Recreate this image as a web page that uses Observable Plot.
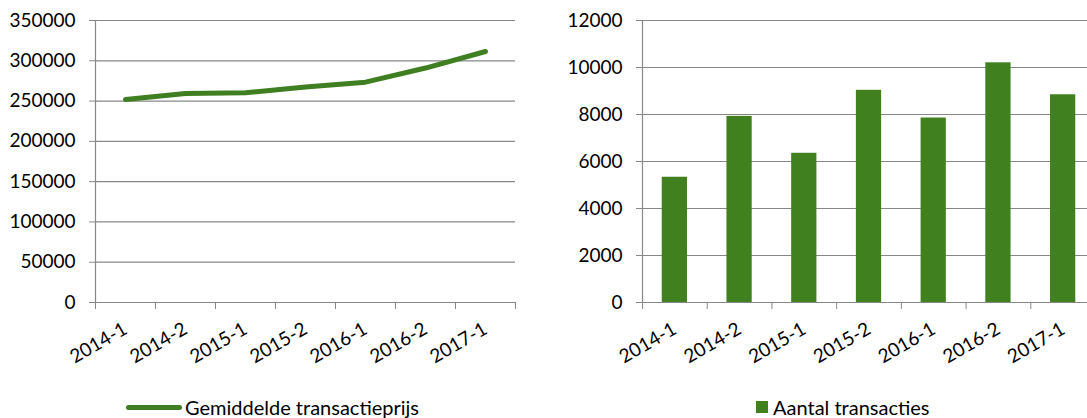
<!DOCTYPE html>
<html>
<head>
<meta charset="utf-8">
<script src="https://cdn.jsdelivr.net/npm/d3@7"></script>
<script src="https://cdn.jsdelivr.net/npm/@observablehq/plot@0.6"></script>
<style>
  html, body { margin: 0; padding: 0; background: #fff; overflow: hidden; }
  #wrap { position: relative; width: 1087px; height: 418px; overflow: hidden; font-family: Lato, sans-serif; color: #000; }
  .chart { position: absolute; top: 0; width: 560px; height: 380px; }
  .chart svg { max-width: none !important; }
  .legend { position: absolute; top: 397px; height: 20px; line-height: 20px; font-size: 20px; white-space: nowrap; display: flex; align-items: center; }
  .lline { display: inline-block; width: 56px; height: 5px; border-radius: 3px; background: #3f7f22; margin-right: 3px; }
  .lsq { display: inline-block; width: 12px; height: 12px; background: #41801f; margin-right: 5px; }
</style>
</head>
<body>
<div id="wrap">
  <div id="left" class="chart" style="left:0px"></div>
  <div id="right" class="chart" style="left:540px"></div>
  <div class="legend" style="left:126px"><span class="lline"></span><span>Gemiddelde transactieprijs</span></div>
  <div class="legend" style="left:756px"><span class="lsq"></span><span>Aantal transacties</span></div>
</div>
<script>
const categories = ["2014-1", "2014-2", "2015-1", "2015-2", "2016-1", "2016-2", "2017-1"];
const prices = [252000, 259500, 260300, 267500, 273500, 291000, 311500];
const transactions = [5330, 7920, 6350, 9030, 7850, 10200, 8840];
const priceTicks = [0, 50000, 100000, 150000, 200000, 250000, 300000, 350000];
const countTicks = [0, 2000, 4000, 6000, 8000, 10000, 12000];

const gridColor = "#888";
const lineColor = "#3f7f22";
const barColor = "#41801f";
const boundaries = d3.range(categories.length + 1);
const centers = categories.map((c, i) => i + 0.5);
const catLabel = d => categories[Math.floor(d)];

function gridMarks(ticks) {
  return [Plot.gridY(ticks, {stroke: gridColor, strokeOpacity: 1, strokeWidth: 1.2})];
}
function axisMarks(ticks) {
  return [
    Plot.ruleX([0], {stroke: gridColor, strokeWidth: 1.2}),
    Plot.axisY(ticks, {tickSize: 6, tickPadding: 14, stroke: gridColor, tickFormat: d => String(d)}),
    Plot.axisX(boundaries, {tickSize: 7, tickFormat: () => "", stroke: gridColor}),
    Plot.axisX(centers, {tickSize: 0, tickPadding: 25, tickRotate: -30, tickFormat: catLabel})
  ];
}

const style = {fontFamily: "Lato, sans-serif", fontSize: "19px", color: "#000", background: "transparent", overflow: "visible", maxWidth: "none"};

const left = Plot.plot({
  width: 540, height: 380,
  marginLeft: 95, marginRight: 25, marginTop: 20, marginBottom: 78,
  x: {type: "linear", domain: [0, categories.length]},
  y: {domain: [0, 350000]},
  style,
  marks: [
    ...gridMarks(priceTicks),
    ...axisMarks(priceTicks),
    Plot.line(prices, {x: (d, i) => i + 0.5, y: d => d, stroke: lineColor, strokeWidth: 5, strokeLinecap: "round", strokeLinejoin: "round"})
  ]
});
document.getElementById("left").appendChild(left);

const right = Plot.plot({
  width: 560, height: 380,
  marginLeft: 102, marginRight: 5, marginTop: 20, marginBottom: 78,
  x: {type: "linear", domain: [0, categories.length]},
  y: {domain: [0, 12000]},
  style,
  marks: [
    ...gridMarks(countTicks),
    Plot.rectY(transactions, {x1: (d, i) => i + 0.305, x2: (d, i) => i + 0.695, y1: 0, y2: d => d, fill: barColor}),
    ...axisMarks(countTicks)
  ]
});
document.getElementById("right").appendChild(right);
</script>
</body>
</html>
